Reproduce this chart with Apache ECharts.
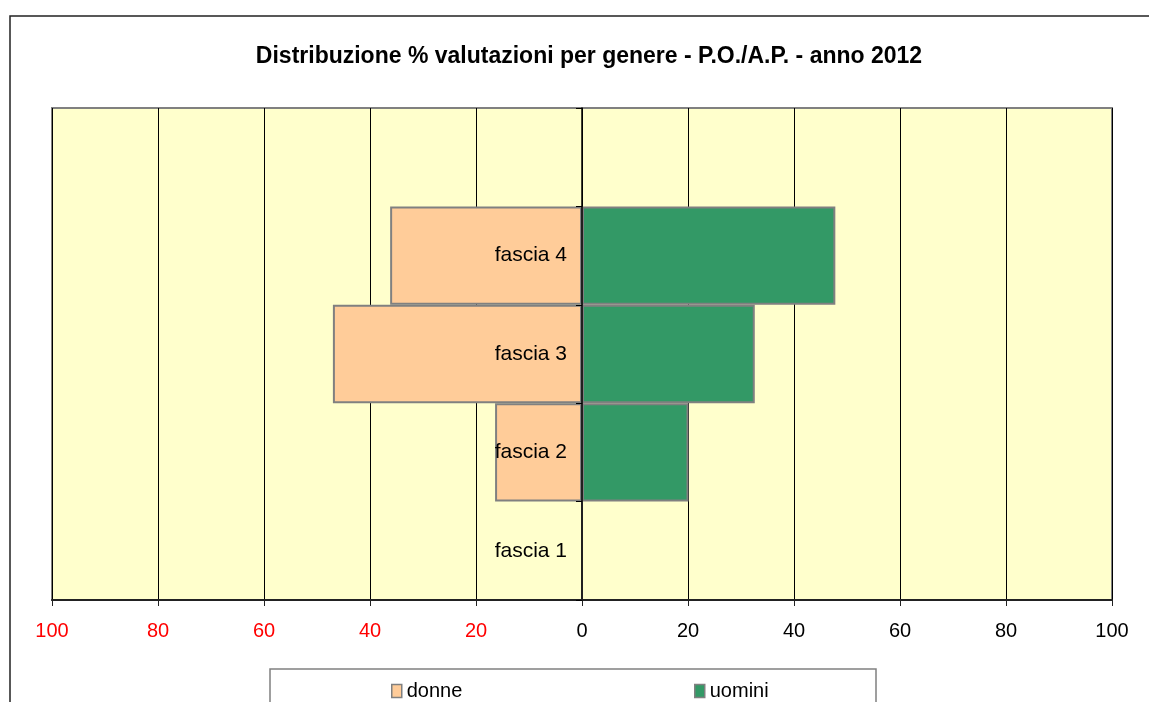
<!DOCTYPE html>
<html>
<head>
    <meta charset="utf-8">
    <title>Distribuzione % valutazioni per genere</title>
    <script src="https://cdn.jsdelivr.net/npm/echarts@6/dist/echarts.min.js"></script>
</head>
<style>
    html, body {
        height: 100%;
        width: 100%;
        padding: 0;
        margin: 0;
        background: #fff;
    }
    .my-chart {
        width: 1149px;
        height: 702px;
    }
</style>
<body>
<div class="my-chart"></div>
<script type="text/javascript">
    // dati (fascia 1 in basso, riga vuota in alto come nell'originale)
    var categorie = ['fascia 1', 'fascia 2', 'fascia 3', 'fascia 4', ''];
    var donne = [0, 16.4, 47.0, 36.2, null];
    var uomini = [0, 20.1, 32.6, 47.8, null];
    var tickValori = [-100, -80, -60, -40, -20, 0, 20, 40, 60, 80, 100];

    var font = "'Liberation Sans', Arial, sans-serif";
    var gridLeft = 52, gridRight = 37;
    var myChart = echarts.init(document.querySelector('.my-chart'));

    // l'asse delle categorie sta sullo zero: lo sposto con offset negativo
    var larghezzaGrid = 1149 - gridLeft - gridRight;
    var offsetZero = -larghezzaGrid / 2;

    var legenda = function (nome, x) {
        return {
            data: [nome], left: x, top: 676,
            icon: 'rect',
            itemWidth: 10, itemHeight: 13, itemGap: 4,
            textStyle: {fontSize: 20, color: '#000', fontFamily: font},
            itemStyle: {borderColor: '#808080', borderWidth: 1.5}
        };
    };

    var option = {
        backgroundColor: '#fff',
        textStyle: {fontFamily: font},
        title: {
            text: 'Distribuzione % valutazioni per genere - P.O./A.P. - anno 2012',
            left: 584,
            textAlign: 'center',
            top: 40,
            textStyle: {fontSize: 23, fontWeight: 'bold', color: '#000', fontFamily: font}
        },
        legend: [legenda('donne', 386), legenda('uomini', 689)],
        graphic: [
            {
                type: 'rect', silent: true, z: -1,
                shape: {x: 10, y: 16, width: 1200, height: 800},
                style: {fill: 'none', stroke: '#222', lineWidth: 1.5}
            },
            {
                type: 'rect', silent: true,
                shape: {x: 270, y: 669, width: 606, height: 80},
                style: {fill: 'none', stroke: '#808080', lineWidth: 1.5}
            }
        ],
        grid: {
            left: gridLeft, right: gridRight, top: 108, bottom: 102,
            outerBoundsMode: 'none',
            containLabel: false,
            show: true,
            backgroundColor: '#FFFFCC',
            borderColor: '#808080',
            borderWidth: 2
        },
        xAxis: {
            type: 'value',
            min: tickValori[0],
            max: tickValori[tickValori.length - 1],
            interval: 20,
            axisLine: {show: true, lineStyle: {color: '#222', width: 2}},
            axisTick: {show: true, length: 6, lineStyle: {color: '#222'}},
            splitLine: {show: true, lineStyle: {color: '#000', width: 1}},
            axisLabel: {
                fontSize: 20,
                margin: 21,
                fontFamily: font,
                formatter: function (v) { return Math.abs(v); },
                color: function (v) { return v < 0 ? '#ff0000' : '#000'; }
            }
        },
        yAxis: {
            type: 'category',
            data: categorie,
            z: 3,
            offset: offsetZero,
            axisLine: {onZero: false, lineStyle: {color: '#000', width: 1.5}},
            axisTick: {show: true, length: 6, lineStyle: {color: '#000'}},
            axisLabel: {fontSize: 21, color: '#000', margin: 15, fontFamily: font},
            splitLine: {show: false}
        },
        series: [
            {
                name: 'donne',
                type: 'bar',
                stack: 'tot',
                barCategoryGap: '0%',
                data: donne.map(function (v) { return v === null ? null : -v; }),
                itemStyle: {color: '#FFCC99', borderColor: '#808080', borderWidth: 2}
            },
            {
                name: 'uomini',
                type: 'bar',
                stack: 'tot',
                barCategoryGap: '0%',
                data: uomini,
                itemStyle: {color: '#339966', borderColor: '#808080', borderWidth: 2}
            }
        ]
    };

    myChart.setOption(option);
</script>
</body>
</html>
